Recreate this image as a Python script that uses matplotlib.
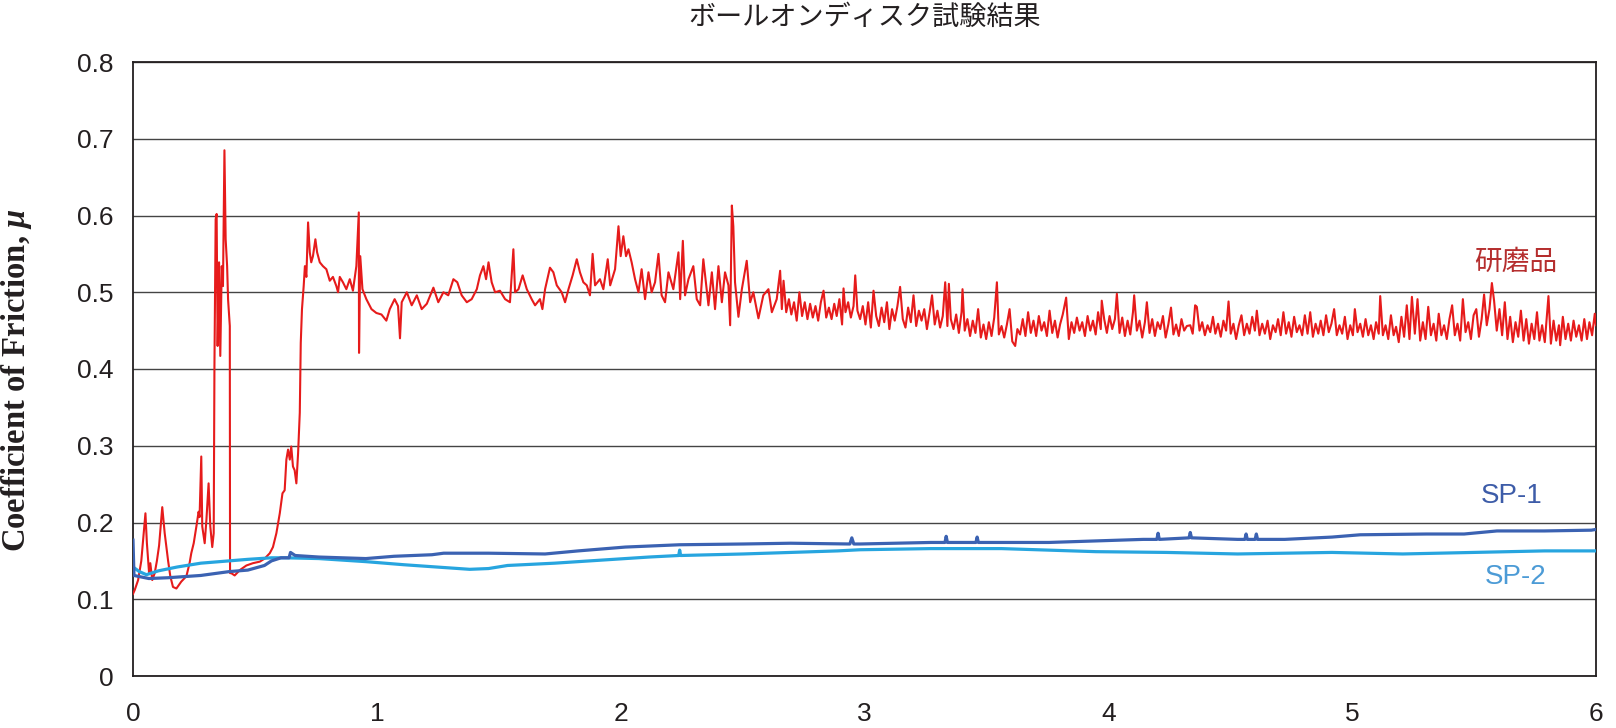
import matplotlib
matplotlib.use("Agg")
import matplotlib.pyplot as plt

plt.rcParams["mathtext.fontset"] = "custom"
plt.rcParams["mathtext.it"] = "Liberation Serif:italic:bold"

# 研磨品 (red) as (x, mu)
red_early = [
    (0.000, 0.107), (0.007, 0.112), (0.021, 0.125), (0.034, 0.150), (0.044, 0.186), (0.051, 0.212),
    (0.057, 0.173), (0.066, 0.134), (0.071, 0.147), (0.079, 0.125), (0.089, 0.134), (0.098, 0.150),
    (0.107, 0.170), (0.120, 0.220), (0.130, 0.186), (0.144, 0.150), (0.153, 0.130), (0.164, 0.116),
    (0.178, 0.114), (0.198, 0.123), (0.219, 0.130), (0.232, 0.147), (0.239, 0.160), (0.249, 0.173),
    (0.260, 0.195), (0.269, 0.214), (0.273, 0.207), (0.280, 0.286), (0.284, 0.195), (0.294, 0.173),
    (0.301, 0.203), (0.310, 0.251), (0.317, 0.195), (0.325, 0.168), (0.331, 0.186), (0.334, 0.404),
    (0.339, 0.595), (0.343, 0.602), (0.347, 0.430), (0.353, 0.539), (0.358, 0.417), (0.364, 0.534),
    (0.369, 0.508), (0.375, 0.685), (0.380, 0.569), (0.386, 0.534), (0.390, 0.490), (0.397, 0.456),
    (0.398, 0.134), (0.403, 0.134), (0.417, 0.131), (0.438, 0.138), (0.465, 0.144), (0.492, 0.147),
    (0.520, 0.149), (0.540, 0.153), (0.561, 0.160), (0.574, 0.168), (0.588, 0.186), (0.602, 0.212),
    (0.613, 0.238), (0.622, 0.242), (0.629, 0.282), (0.636, 0.295), (0.643, 0.282), (0.649, 0.299),
    (0.656, 0.273), (0.663, 0.268), (0.670, 0.251), (0.677, 0.290), (0.684, 0.343), (0.688, 0.434),
    (0.693, 0.478), (0.700, 0.508), (0.705, 0.534), (0.711, 0.520), (0.718, 0.591), (0.725, 0.552),
    (0.731, 0.539), (0.738, 0.547), (0.748, 0.569), (0.755, 0.552), (0.766, 0.539), (0.779, 0.534),
    (0.793, 0.530), (0.807, 0.515), (0.820, 0.520), (0.834, 0.508), (0.841, 0.500), (0.848, 0.520),
    (0.861, 0.513), (0.875, 0.504), (0.889, 0.517), (0.902, 0.502), (0.916, 0.534), (0.926, 0.604),
    (0.927, 0.421), (0.932, 0.547), (0.941, 0.504), (0.957, 0.491), (0.978, 0.478), (0.998, 0.473),
    (1.019, 0.471), (1.039, 0.463), (1.053, 0.478), (1.073, 0.491), (1.087, 0.482),
]
red_mid = [
    (1.095, 0.440), (1.102, 0.487), (1.123, 0.500), (1.143, 0.483), (1.164, 0.496), (1.184, 0.478),
    (1.205, 0.485), (1.232, 0.506), (1.252, 0.487), (1.273, 0.500), (1.293, 0.496), (1.314, 0.517),
    (1.330, 0.513), (1.348, 0.496), (1.369, 0.487), (1.389, 0.491), (1.410, 0.504), (1.423, 0.522),
    (1.437, 0.534), (1.448, 0.517), (1.458, 0.539), (1.471, 0.513), (1.485, 0.500), (1.505, 0.502),
    (1.526, 0.491), (1.546, 0.487), (1.560, 0.556), (1.567, 0.500), (1.581, 0.504), (1.598, 0.522),
    (1.615, 0.504), (1.635, 0.491), (1.649, 0.483), (1.669, 0.491), (1.679, 0.478), (1.690, 0.504),
    (1.710, 0.532), (1.724, 0.526), (1.738, 0.509), (1.758, 0.500), (1.772, 0.487), (1.786, 0.504),
    (1.803, 0.522), (1.820, 0.543), (1.833, 0.526), (1.847, 0.513), (1.861, 0.509), (1.874, 0.496),
    (1.885, 0.550), (1.895, 0.509), (1.915, 0.517), (1.929, 0.504), (1.947, 0.543), (1.957, 0.509),
    (1.977, 0.530), (1.991, 0.586), (2.000, 0.547), (2.011, 0.573), (2.022, 0.547), (2.032, 0.556),
    (2.045, 0.539), (2.059, 0.517), (2.073, 0.500), (2.086, 0.530), (2.100, 0.491), (2.114, 0.526),
    (2.127, 0.500), (2.141, 0.513), (2.155, 0.550), (2.168, 0.496), (2.182, 0.487), (2.196, 0.526),
    (2.216, 0.504), (2.237, 0.552), (2.244, 0.491), (2.255, 0.567), (2.264, 0.496), (2.278, 0.517),
    (2.298, 0.534), (2.312, 0.491), (2.326, 0.483), (2.339, 0.543), (2.360, 0.483), (2.374, 0.526),
    (2.387, 0.478), (2.401, 0.534), (2.415, 0.487), (2.428, 0.526), (2.442, 0.509), (2.449, 0.457),
    (2.456, 0.613), (2.462, 0.586), (2.469, 0.513), (2.483, 0.468), (2.497, 0.504), (2.517, 0.541),
    (2.531, 0.487), (2.544, 0.500), (2.565, 0.466), (2.585, 0.496), (2.606, 0.504), (2.620, 0.474),
    (2.640, 0.491),
]
red_late = [
    (2.654, 0.528), (2.661, 0.478), (2.668, 0.515), (2.679, 0.474), (2.690, 0.491), (2.700, 0.471),
    (2.711, 0.487), (2.722, 0.463), (2.733, 0.500), (2.744, 0.469), (2.755, 0.487), (2.766, 0.465),
    (2.777, 0.485), (2.788, 0.467), (2.799, 0.482), (2.810, 0.463), (2.821, 0.487), (2.832, 0.502),
    (2.843, 0.467), (2.854, 0.480), (2.865, 0.465), (2.876, 0.485), (2.886, 0.469), (2.897, 0.491),
    (2.908, 0.458), (2.914, 0.505), (2.922, 0.474), (2.933, 0.487), (2.944, 0.467), (2.955, 0.482),
    (2.962, 0.522), (2.971, 0.476), (2.982, 0.465), (2.993, 0.482), (3.004, 0.458), (3.015, 0.487),
    (3.026, 0.454), (3.037, 0.502), (3.048, 0.469), (3.059, 0.456), (3.070, 0.480), (3.081, 0.461),
    (3.092, 0.487), (3.102, 0.452), (3.113, 0.478), (3.124, 0.463), (3.135, 0.482), (3.146, 0.507),
    (3.157, 0.465), (3.168, 0.454), (3.179, 0.480), (3.190, 0.461), (3.201, 0.496), (3.212, 0.456),
    (3.223, 0.476), (3.234, 0.463), (3.245, 0.478), (3.256, 0.452), (3.267, 0.474), (3.277, 0.496),
    (3.288, 0.458), (3.299, 0.476), (3.310, 0.454), (3.321, 0.469), (3.331, 0.513), (3.340, 0.456),
    (3.346, 0.511), (3.354, 0.465), (3.365, 0.452), (3.376, 0.471), (3.387, 0.447), (3.398, 0.474),
    (3.402, 0.504), (3.411, 0.450), (3.422, 0.465), (3.433, 0.443), (3.444, 0.463), (3.455, 0.447),
    (3.466, 0.478), (3.477, 0.441), (3.488, 0.458), (3.499, 0.439), (3.510, 0.461), (3.521, 0.443),
    (3.532, 0.467), (3.543, 0.513), (3.551, 0.445), (3.562, 0.456), (3.573, 0.441), (3.584, 0.458),
    (3.595, 0.478), (3.606, 0.436), (3.618, 0.430), (3.627, 0.452), (3.638, 0.445), (3.649, 0.465),
    (3.660, 0.443), (3.671, 0.474), (3.682, 0.447), (3.693, 0.463), (3.704, 0.443), (3.715, 0.469),
    (3.726, 0.450), (3.737, 0.461), (3.748, 0.443), (3.759, 0.476), (3.770, 0.447), (3.781, 0.463),
    (3.792, 0.441), (3.802, 0.458), (3.813, 0.471), (3.827, 0.493), (3.838, 0.439), (3.849, 0.461),
    (3.860, 0.447), (3.871, 0.467), (3.882, 0.450), (3.893, 0.461), (3.904, 0.443), (3.915, 0.469),
    (3.926, 0.450), (3.937, 0.463), (3.948, 0.445), (3.958, 0.474), (3.969, 0.452), (3.973, 0.489),
    (3.983, 0.465), (3.994, 0.447), (4.005, 0.469), (4.016, 0.452), (4.027, 0.465), (4.035, 0.498),
    (4.046, 0.447), (4.057, 0.467), (4.068, 0.443), (4.079, 0.463), (4.090, 0.445), (4.101, 0.474),
    (4.106, 0.496), (4.117, 0.450), (4.128, 0.463), (4.139, 0.441), (4.150, 0.461), (4.158, 0.487),
    (4.169, 0.447), (4.180, 0.465), (4.191, 0.443), (4.202, 0.461), (4.213, 0.452), (4.224, 0.469),
    (4.235, 0.441), (4.246, 0.458), (4.257, 0.480), (4.267, 0.445), (4.278, 0.458), (4.289, 0.443),
    (4.300, 0.465), (4.311, 0.450), (4.322, 0.456),
]
red_end = [
    (4.336, 0.457), (4.346, 0.446), (4.356, 0.483), (4.363, 0.481), (4.374, 0.450), (4.385, 0.461),
    (4.396, 0.444), (4.407, 0.457), (4.418, 0.448), (4.429, 0.468), (4.439, 0.446), (4.450, 0.459),
    (4.461, 0.442), (4.472, 0.463), (4.483, 0.450), (4.493, 0.488), (4.502, 0.446), (4.513, 0.459),
    (4.524, 0.439), (4.535, 0.457), (4.546, 0.470), (4.557, 0.444), (4.568, 0.459), (4.579, 0.446),
    (4.590, 0.468), (4.601, 0.450), (4.609, 0.476), (4.620, 0.444), (4.631, 0.459), (4.642, 0.446),
    (4.653, 0.463), (4.664, 0.439), (4.675, 0.457), (4.686, 0.448), (4.696, 0.465), (4.707, 0.444),
    (4.718, 0.474), (4.729, 0.446), (4.740, 0.461), (4.751, 0.442), (4.762, 0.468), (4.773, 0.448),
    (4.784, 0.457), (4.795, 0.444), (4.806, 0.470), (4.817, 0.446), (4.828, 0.474), (4.839, 0.442),
    (4.850, 0.459), (4.861, 0.446), (4.871, 0.463), (4.882, 0.444), (4.893, 0.470), (4.904, 0.448),
    (4.915, 0.459), (4.926, 0.478), (4.937, 0.444), (4.948, 0.457), (4.959, 0.446), (4.970, 0.468),
    (4.981, 0.439), (4.992, 0.457), (5.003, 0.444), (5.011, 0.478), (5.022, 0.448), (5.033, 0.459),
    (5.044, 0.442), (5.055, 0.465), (5.066, 0.444), (5.077, 0.457), (5.088, 0.439), (5.098, 0.461),
    (5.109, 0.446), (5.115, 0.495), (5.126, 0.444), (5.137, 0.457), (5.148, 0.439), (5.159, 0.470),
    (5.170, 0.444), (5.180, 0.455), (5.191, 0.435), (5.202, 0.468), (5.213, 0.442), (5.224, 0.483),
    (5.235, 0.439), (5.245, 0.494), (5.257, 0.446), (5.268, 0.491), (5.279, 0.437), (5.290, 0.461),
    (5.301, 0.439), (5.312, 0.481), (5.323, 0.444), (5.334, 0.459), (5.345, 0.437), (5.355, 0.472),
    (5.366, 0.444), (5.377, 0.457), (5.388, 0.439), (5.399, 0.465), (5.410, 0.483), (5.421, 0.444),
    (5.432, 0.459), (5.443, 0.437), (5.454, 0.491), (5.465, 0.448), (5.476, 0.461), (5.487, 0.439),
    (5.498, 0.470), (5.509, 0.478), (5.520, 0.442), (5.531, 0.465), (5.541, 0.497), (5.552, 0.457),
    (5.563, 0.478), (5.573, 0.512), (5.582, 0.489), (5.593, 0.450), (5.604, 0.478), (5.615, 0.444),
    (5.626, 0.487), (5.637, 0.439), (5.648, 0.468), (5.659, 0.435), (5.670, 0.461), (5.681, 0.442),
    (5.692, 0.476), (5.703, 0.437), (5.714, 0.465), (5.725, 0.433), (5.736, 0.459), (5.747, 0.439),
    (5.758, 0.474), (5.768, 0.437), (5.779, 0.457), (5.790, 0.435), (5.805, 0.495), (5.815, 0.433),
    (5.826, 0.463), (5.837, 0.437), (5.848, 0.457), (5.853, 0.431), (5.864, 0.468), (5.875, 0.439),
    (5.886, 0.459), (5.897, 0.437), (5.908, 0.463), (5.919, 0.442), (5.930, 0.457), (5.941, 0.437),
    (5.952, 0.465), (5.963, 0.439), (5.973, 0.461), (5.984, 0.444), (5.995, 0.472), (6.000, 0.457),
]
red_x, red_y = zip(*(red_early + red_mid + red_late + red_end))

# SP-1 (dark blue)
sp1_x = [0.000, 0.004, 0.065, 0.142, 0.278, 0.394, 0.471, 0.539, 0.568, 0.607, 0.640, 0.646,
         0.665, 0.762, 0.955, 1.071, 1.226, 1.274, 1.458, 1.690, 1.826, 2.019, 2.242, 2.503,
         2.697, 2.940, 2.948, 2.956, 2.982, 3.272, 3.330, 3.335, 3.340, 3.457, 3.462, 3.467,
         3.562, 3.756, 3.949, 4.143, 4.199, 4.204, 4.209, 4.331, 4.336, 4.341, 4.530, 4.560,
         4.565, 4.570, 4.602, 4.607, 4.612, 4.723, 4.917, 5.033, 5.304, 5.459, 5.594, 5.788,
         5.981, 6.000]
sp1_y = [0.177, 0.131, 0.127, 0.128, 0.131, 0.136, 0.138, 0.144, 0.150, 0.154, 0.154, 0.161,
         0.157, 0.155, 0.153, 0.156, 0.158, 0.160, 0.160, 0.159, 0.163, 0.168, 0.171, 0.172,
         0.173, 0.172, 0.180, 0.172, 0.172, 0.174, 0.174, 0.182, 0.174, 0.174, 0.181, 0.174,
         0.174, 0.174, 0.176, 0.178, 0.178, 0.186, 0.178, 0.180, 0.187, 0.180, 0.178, 0.178,
         0.185, 0.178, 0.178, 0.185, 0.178, 0.178, 0.181, 0.184, 0.185, 0.185, 0.189, 0.189,
         0.190, 0.191]

# SP-2 (light blue)
sp2_x = [0.000, 0.026, 0.055, 0.104, 0.181, 0.278, 0.394, 0.471, 0.568, 0.626, 0.762, 0.955,
         1.110, 1.245, 1.381, 1.458, 1.536, 1.729, 1.922, 2.116, 2.238, 2.242, 2.246, 2.503,
         2.697, 2.890, 2.982, 3.272, 3.562, 3.756, 3.949, 4.239, 4.530, 4.723, 4.917, 5.207,
         5.497, 5.788, 6.000]
sp2_y = [0.142, 0.136, 0.132, 0.137, 0.142, 0.147, 0.150, 0.152, 0.154, 0.154, 0.153, 0.149,
         0.145, 0.142, 0.139, 0.140, 0.144, 0.147, 0.151, 0.155, 0.157, 0.164, 0.157, 0.159,
         0.161, 0.163, 0.1645, 0.166, 0.166, 0.164, 0.162, 0.161, 0.159, 0.160, 0.161, 0.159,
         0.161, 0.163, 0.163]

y_ticks = [0, 0.1, 0.2, 0.3, 0.4, 0.5, 0.6, 0.7, 0.8]
y_labels = ["0", "0.1", "0.2", "0.3", "0.4", "0.5", "0.6", "0.7", "0.8"]
x_ticks = [0, 1, 2, 3, 4, 5, 6]

RED = "#e61b1b"
SP1 = "#3b62b2"
SP2 = "#27a5df"
CJK = ["Noto Sans CJK JP", "DejaVu Sans"]

fig = plt.figure(figsize=(16.16, 7.28), dpi=100)
ax = fig.add_axes([133 / 1616, 52 / 728, 1463 / 1616, 614 / 728])

ax.plot(red_x, red_y, color=RED, lw=1.5, zorder=3)
ax.plot(sp2_x, sp2_y, color=SP2, lw=2.3, zorder=4)
ax.plot(sp1_x, sp1_y, color=SP1, lw=2.3, zorder=5)

ax.set_xlim(0, 6)
ax.set_ylim(0, 0.8)
ax.set_yticks(y_ticks)
ax.set_yticklabels(y_labels, fontsize=19, family="Liberation Sans", color="#231f20")
ax.set_xticks(x_ticks)
ax.set_xticklabels([str(t) for t in x_ticks], fontsize=19, family="Liberation Sans", color="#231f20")
ax.tick_params(axis="y", length=0, pad=14)
ax.tick_params(axis="x", length=0, pad=19)
ax.yaxis.grid(True, color="#444444", lw=1.0)
ax.set_axisbelow(True)
for s in ax.spines.values():
    s.set_color("#231f20")
    s.set_linewidth(1.3)

ax.set_title("ボールオンディスク試験結果", family=CJK, fontsize=19.5, color="#231f20", pad=27)
fig.text(17 / 1616, (728 - 380) / 728, r"Coefficient of Friction, $\mu$", rotation=90,
         family="Liberation Serif", fontweight="bold", fontsize=23.5, color="#231f20",
         ha="center", va="center")

ax.text(5.669, 0.540, "研磨品", family=CJK, fontsize=20, color="#b52e2e", ha="center", va="center")
ax.text(5.656, 0.235, "SP-1", family="Liberation Sans", fontsize=20, color="#3d5ca8", ha="center", va="center")
ax.text(5.669, 0.129, "SP-2", family="Liberation Sans", fontsize=20, color="#4c9bd6", ha="center", va="center")

fig.savefig("out.png", dpi=100)
